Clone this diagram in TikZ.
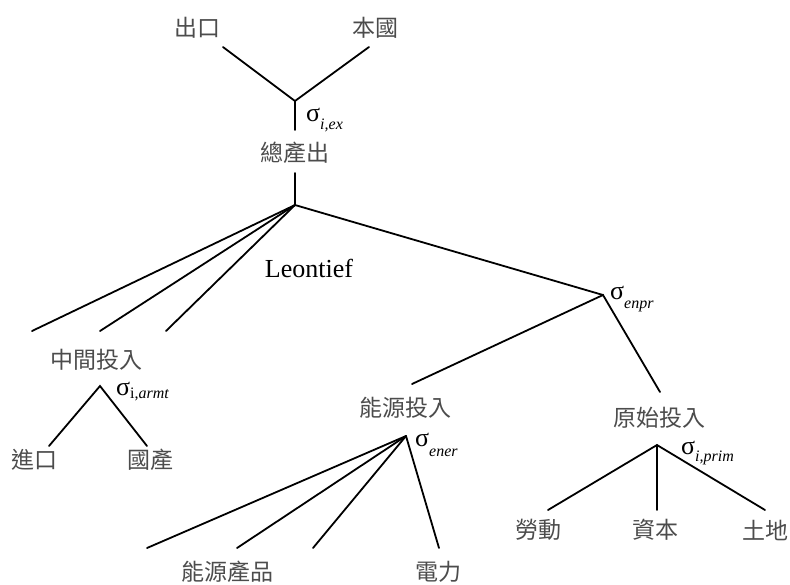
\documentclass[tikz,border=0pt]{standalone}
\usepackage{fontspec}
\setmainfont{Liberation Serif}
\newfontfamily\cjk{Noto Sans CJK TC}
\begin{document}
\begin{tikzpicture}[x=1pt,y=-1pt,
  conn/.style={line width=1.8pt, line cap=round},
  lbl/.style={font=\cjk\fontsize{23}{23}\selectfont, inner sep=0pt, text=black!70},
  sig/.style={anchor=base west, inner sep=0pt, font=\fontsize{26}{26}\selectfont},
  sub/.style={font=\fontsize{15}{15}\selectfont\itshape}]
\useasboundingbox (0,0) rectangle (790,584);
% text nodes
\node[lbl] (chukou) at (197,28) {出口};
\node[lbl] (benguo) at (375,28) {本國};
\node[lbl] (zong) at (295,153) {總產出};
\node[inner sep=0pt, font=\fontsize{26}{26}\selectfont] (leon) at (309,268) {Leontief};
\node[lbl] (zhong) at (96,360) {中間投入};
\node[lbl] (jin) at (35,460) {進口};
\node[lbl] (guo) at (150,460) {國產};
\node[lbl] (nengyuan) at (405,408) {能源投入};
\node[lbl] (yuanshi) at (659,418) {原始投入};
\node[lbl] (nycp) at (227,572) {能源產品};
\node[lbl] (dianli) at (438,572) {電力};
\node[lbl] (laodong) at (538,530) {勞動};
\node[lbl] (ziben) at (655,530) {資本};
\node[lbl] (tudi) at (765,530) {土地};
% sigma labels
\node[sig] (sex) at (306,121) {σ\raisebox{-8pt}{\fontsize{16}{16}\selectfont\itshape i,ex}};
\node[sig] (senpr) at (610,299) {σ\raisebox{-9pt}{\fontsize{16}{16}\selectfont\itshape enpr}};
\node[sig] (sarmt) at (116,395) {σ\raisebox{-3pt}{\fontsize{16}{16}\selectfont i,\itshape armt}};
\node[sig] (sener) at (415,446) {σ\raisebox{-10pt}{\fontsize{16}{16}\selectfont\itshape ener}};
\node[sig] (sprim) at (681,454) {σ\raisebox{-7pt}{\fontsize{16}{16}\selectfont\itshape i,prim}};
% junctions and line ends
\coordinate (j1) at (295,101);
\coordinate (a1) at (223,47);
\coordinate (a2) at (369,47);
\coordinate (zb) at (295,130);
\coordinate (zt) at (295,173);
\coordinate (j2) at (295,205);
\coordinate (m1) at (32,331);
\coordinate (m2) at (100,331);
\coordinate (m3) at (166,331);
\coordinate (j3) at (603,295);
\coordinate (e1) at (412,384);
\coordinate (p1) at (660,392);
\coordinate (j4) at (100,386);
\coordinate (i1) at (49,446);
\coordinate (i2) at (147,446);
\coordinate (j5) at (406,436);
\coordinate (n1) at (147,548);
\coordinate (n2) at (237,548);
\coordinate (n3) at (313,548);
\coordinate (n4) at (439,548);
\coordinate (j6) at (657,445);
\coordinate (q1) at (548,510);
\coordinate (q2) at (657,510);
\coordinate (q3) at (765,510);
% connectors
\draw[conn] (a1) -- (j1) -- (a2);
\draw[conn] (j1) -- (zb);
\draw[conn] (zt) -- (j2);
\draw[conn] (j2) -- (m1);
\draw[conn] (j2) -- (m2);
\draw[conn] (j2) -- (m3);
\draw[conn] (j2) -- (j3);
\draw[conn] (e1) -- (j3) -- (p1);
\draw[conn] (i1) -- (j4) -- (i2);
\draw[conn] (j5) -- (n1);
\draw[conn] (j5) -- (n2);
\draw[conn] (j5) -- (n3);
\draw[conn] (j5) -- (n4);
\draw[conn] (q1) -- (j6) -- (q3);
\draw[conn] (j6) -- (q2);
\end{tikzpicture}
\end{document}
